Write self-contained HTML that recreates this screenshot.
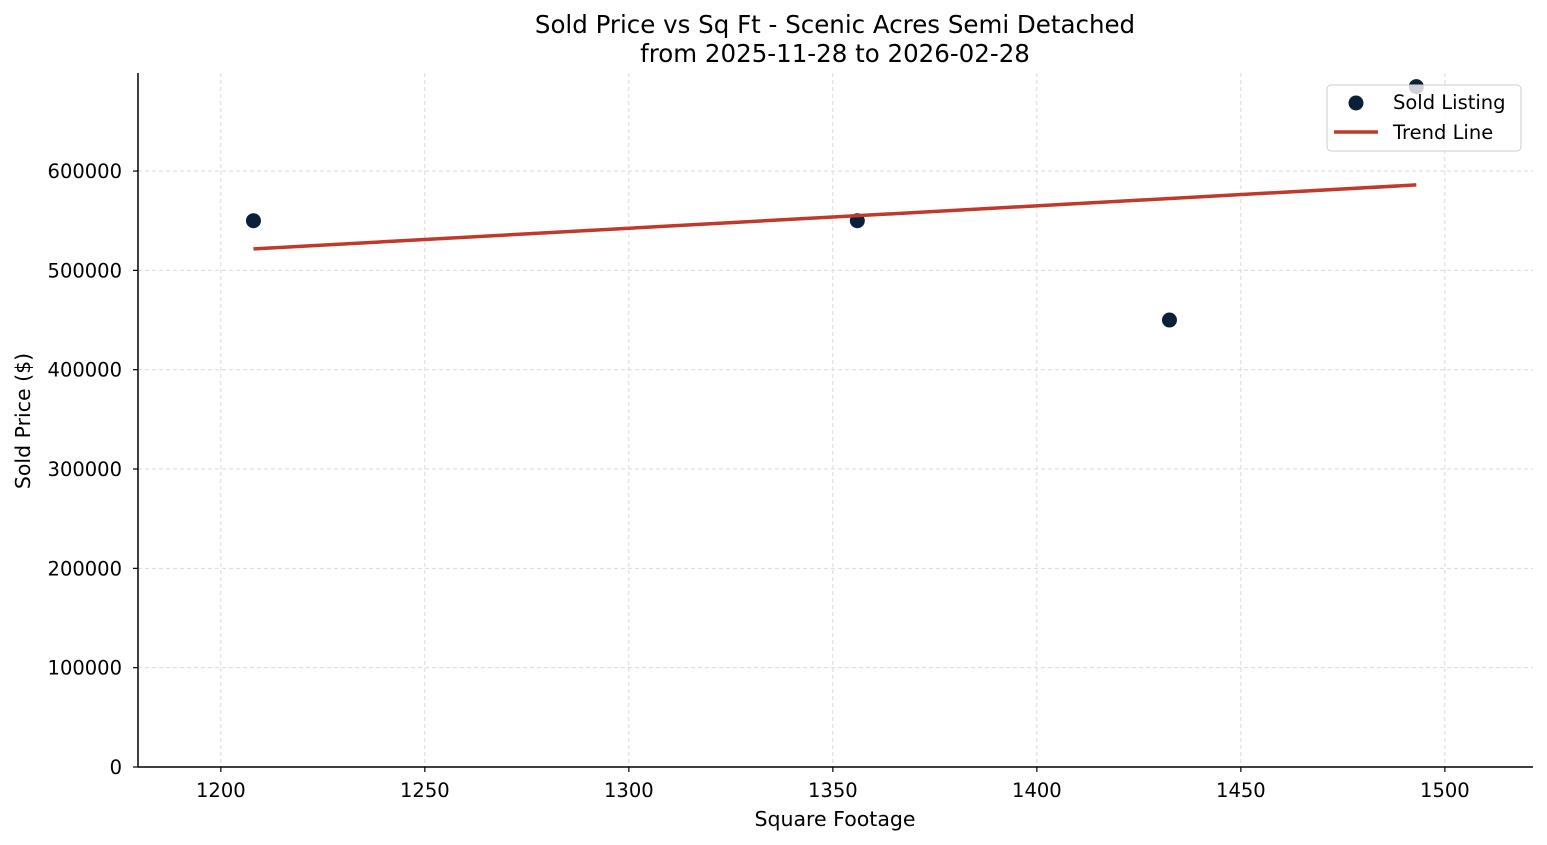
<!DOCTYPE html>
<html><head><meta charset="utf-8"><style>
html,body{margin:0;padding:0;background:#fff;}
svg{display:block;font-family:"DejaVu Sans","Liberation Sans",sans-serif;}
</style></head><body>
<svg id="chart" width="1547" height="845" viewBox="0 0 1547 845">
<g id="grid"></g>
<g id="axes"></g>
<g id="marks"></g>
<text x="835" y="33" text-anchor="middle" font-size="24.5" fill="#000">Sold Price vs Sq Ft - Scenic Acres Semi Detached</text>
<text x="835" y="62" text-anchor="middle" font-size="24.5" fill="#000">from 2025-11-28 to 2026-02-28</text>
<text x="835" y="826" text-anchor="middle" font-size="20.5" fill="#000">Square Footage</text>
<text transform="translate(30,421) rotate(-90)" text-anchor="middle" font-size="20.5" fill="#000">Sold Price ($)</text>
<g>
<rect x="1327" y="85" width="194" height="66" rx="4" fill="#fff" fill-opacity="0.8" stroke="#ccc"/>
<circle cx="1356" cy="103" r="7.5" fill="#0a1f3a"/>
<text x="1393" y="109" font-size="19.5">Sold Listing</text>
<line x1="1334" y1="132" x2="1378" y2="132" stroke="#c0392b" stroke-width="3.5"/>
<text x="1393" y="139" font-size="19.5">Trend Line</text>
</g>
</svg>
<script>
const sqft = [1208, 1356, 1432.5, 1493];
const prices = [550000, 550000, 450000, 685000];
const xTicks = [1200, 1250, 1300, 1350, 1400, 1450, 1500];
const yTicks = [0, 100000, 200000, 300000, 400000, 500000, 600000];

const L=138,R=1533,T=73,B=767;
const xMin=1179.7,xMax=1521.6,yMin=0,yMax=698700;
const sx=v=>L+(v-xMin)/(xMax-xMin)*(R-L);
const sy=v=>B-(v-yMin)/(yMax-yMin)*(B-T);
const NS='http://www.w3.org/2000/svg';
function mk(tag,attrs,parent){const e=document.createElementNS(NS,tag);for(const k in attrs)e.setAttribute(k,attrs[k]);parent.appendChild(e);return e;}
const grid=document.getElementById('grid'),axes=document.getElementById('axes'),marks=document.getElementById('marks');

xTicks.forEach(t=>{
  const x=sx(t);
  const g=mk('line',{x1:x,x2:x,y1:T,y2:B,stroke:'#d9d9d9','stroke-width':1,'stroke-dasharray':'4,3'},grid);
  
  
  const tk=mk('line',{x1:x,x2:x,y1:B,y2:B+5,stroke:'#000','stroke-width':1.2},axes);
  
  
  const tx=mk('text',{x:x,y:B+30,'text-anchor':'middle','font-size':19.5},axes);
  tx.textContent=t;
  
  
});
yTicks.forEach(t=>{
  const y=sy(t);
  if(t>0){
    const g=mk('line',{x1:L,x2:R,y1:y,y2:y,stroke:'#d9d9d9','stroke-width':1,'stroke-dasharray':'4,3'},grid);
    
    
  }
  const tk=mk('line',{x1:L-5,x2:L,y1:y,y2:y,stroke:'#000','stroke-width':1.2},axes);
  
  
  const tx=mk('text',{x:L-16,y:y+7,'text-anchor':'end','font-size':19.5},axes);
  tx.textContent=t;
  
  
});
const ax1=mk('line',{x1:L,x2:L,y1:T,y2:B,stroke:'#000','stroke-width':1.5},axes);


const ax2=mk('line',{x1:L,x2:R,y1:B,y2:B,stroke:'#000','stroke-width':1.5},axes);



const n=sqft.length;
const mx=sqft.reduce((a,b)=>a+b,0)/n, my=prices.reduce((a,b)=>a+b,0)/n;
let sxy=0,sxx=0;
for(let i=0;i<n;i++){sxy+=(sqft[i]-mx)*(prices[i]-my);sxx+=(sqft[i]-mx)**2;}
const slope=sxy/sxx, icpt=my-slope*mx;
const x0=Math.min(...sqft), x1=Math.max(...sqft);

sqft.forEach((v,i)=>{
  const c=mk('circle',{cx:sx(v),cy:sy(prices[i]),r:7.5,fill:'#0a1f3a'},marks);
  
  
});
const tl=mk('line',{x1:sx(x0),y1:sy(slope*x0+icpt),x2:sx(x1),y2:sy(slope*x1+icpt),stroke:'#c0392b','stroke-width':3.5},marks);


</script>
</body></html>
